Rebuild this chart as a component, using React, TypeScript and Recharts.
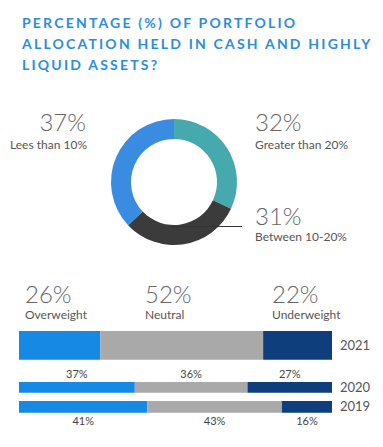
import { PieChart, Pie, Cell, BarChart, Bar, XAxis, YAxis, LabelList } from 'recharts';

const titleLines = ['PERCENTAGE (%) OF PORTFOLIO', 'ALLOCATION HELD IN CASH AND HIGHLY', 'LIQUID ASSETS?'];

const cashLabels = ['Greater than 20%', 'Between 10-20%', 'Lees than 10%'];
const cashValues = [32, 31, 37];
const cashColors = ['#45a9ad', '#3b3b3b', '#3a8ce0'];

const years = ['2021', '2020', '2019'];
const overweight = [26, 37, 41];
const neutral = [52, 36, 43];
const underweight = [22, 27, 16];
const stanceLabels = ['Overweight', 'Neutral', 'Underweight'];
const stanceColors = ['#1589e3', '#a9a9a9', '#0e3f7c'];

const pieData = cashLabels.map((name, i) => ({ name, value: cashValues[i] }));
const barRows = years.map((year, i) => ({
    year,
    overweight: overweight[i],
    neutral: neutral[i],
    underweight: underweight[i]
}));

const font = 'Lato, "Open Sans", sans-serif';
const bigText = { position: 'absolute' as const, fontFamily: font, fontWeight: 300, fontSize: 24, lineHeight: '24px', color: '#666' };
const smallText = { position: 'absolute' as const, fontFamily: font, fontSize: 12, lineHeight: '14px', color: '#555', whiteSpace: 'nowrap' as const };

const YearBar = ({ row, top, height, barSize, margin, labelPos }: any) => (
    <div style={{ position: 'absolute', left: 0, top, width: 383, height }}>
        <BarChart width={383} height={height} data={[row]} layout="vertical" margin={margin} barSize={barSize}>
            <XAxis type="number" domain={[0, 100]} hide />
            <YAxis
                type="category"
                dataKey="year"
                orientation="right"
                width={51}
                interval={0}
                axisLine={false}
                tickLine={false}
                tick={{ fill: '#555', fontSize: 13, fontFamily: font }}
            />
            {['overweight', 'neutral', 'underweight'].map((key, i) => (
                <Bar key={key} dataKey={key} stackId="a" fill={stanceColors[i]} isAnimationActive={false}>
                    {labelPos && (
                        <LabelList
                            dataKey={key}
                            position={labelPos}
                            offset={4}
                            formatter={(v: any) => `${v}%`}
                            style={{ fill: '#444', fontSize: 11, fontFamily: font }}
                        />
                    )}
                </Bar>
            ))}
        </BarChart>
    </div>
);

const App = () => {
    const stanceX = [25, 145, 272];
    return (
        <div style={{ position: 'absolute', left: 0, top: 0, width: 383, height: 447, background: '#fff', overflow: 'hidden' }}>
            <div style={{ position: 'absolute', left: 22, top: 12, fontFamily: font, fontWeight: 700, fontSize: 14, lineHeight: '21px', letterSpacing: 2.2, color: '#2c8ddd', whiteSpace: 'nowrap' }}>
                {titleLines.map((l) => (
                    <div key={l}>{l}</div>
                ))}
            </div>

            <div style={{ position: 'absolute', left: 0, top: 0 }}>
                <PieChart width={383} height={300}>
                    <Pie
                        data={pieData}
                        dataKey="value"
                        cx={169}
                        cy={177}
                        innerRadius={43}
                        outerRadius={63}
                        startAngle={90}
                        endAngle={-270}
                        stroke="none"
                        isAnimationActive={false}
                    >
                        {pieData.map((d, i) => (
                            <Cell key={d.name} fill={cashColors[i]} />
                        ))}
                    </Pie>
                </PieChart>
            </div>
            <div style={{ position: 'absolute', left: 172, top: 226, width: 70, height: 1, background: '#333' }} />

            <div style={{ ...bigText, right: 383 - 86, top: 110, textAlign: 'right' }}>{cashValues[2]}%</div>
            <div style={{ ...smallText, right: 383 - 87, top: 138, textAlign: 'right' }}>{cashLabels[2]}</div>
            <div style={{ ...bigText, left: 255, top: 110 }}>{cashValues[0]}%</div>
            <div style={{ ...smallText, left: 255, top: 138 }}>{cashLabels[0]}</div>
            <div style={{ ...bigText, left: 255, top: 204 }}>{cashValues[1]}%</div>
            <div style={{ ...smallText, left: 255, top: 230 }}>{cashLabels[1]}</div>

            {[overweight[0], neutral[0], underweight[0]].map((v, i) => (
                <div key={stanceLabels[i]}>
                    <div style={{ ...bigText, left: stanceX[i], top: 282 }}>{v}%</div>
                    <div style={{ ...smallText, left: stanceX[i], top: 308 }}>{stanceLabels[i]}</div>
                </div>
            ))}

            <YearBar row={barRows[0]} top={329} height={32} barSize={32} margin={{ top: 0, right: 0, bottom: 0, left: 19 }} />
            <YearBar row={barRows[1]} top={362} height={32} barSize={12} margin={{ top: 19, right: 0, bottom: 1, left: 19 }} labelPos="top" />
            <YearBar row={barRows[2]} top={395} height={35} barSize={13} margin={{ top: 5, right: 0, bottom: 17, left: 19 }} labelPos="bottom" />
        </div>
    );
};

export default App;
